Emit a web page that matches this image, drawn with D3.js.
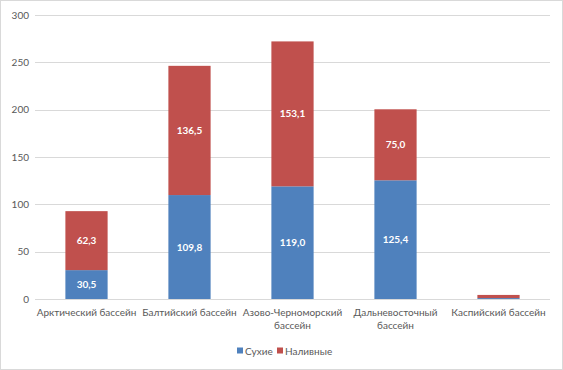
<!DOCTYPE html>
<html><head><meta charset="utf-8">
<script src="https://cdn.jsdelivr.net/npm/d3@7"></script>
<style>body{margin:0;background:#fff}svg{display:block}text{font-family:Lato,"Open Sans",sans-serif}</style>
</head><body>
<script>
const categories = ["Арктический бассейн", "Балтийский бассейн", "Азово-Черноморский бассейн", "Дальневосточный бассейн", "Каспийский бассейн"];
const labelLines = [["Арктический бассейн"], ["Балтийский бассейн"], ["Азово-Черноморский", "бассейн"], ["Дальневосточный", "бассейн"], ["Каспийский бассейн"]];
const dry = [30.5, 109.8, 119.0, 125.4, 1.0];
const liquid = [62.3, 136.5, 153.1, 75.0, 3.3];
const seriesNames = ["Сухие", "Наливные"];
const colors = ["#4F81BD", "#C0504D"];
const yTicks = [0, 50, 100, 150, 200, 250, 300];

const W = 563, H = 370;
const svg = d3.select("body").append("svg").attr("width", W).attr("height", H);
svg.append("rect").attr("x", 0.5).attr("y", 0.5).attr("width", W - 1).attr("height", H - 1)
  .attr("fill", "#fff").attr("stroke", "#d9d9d9");

const x = d3.scaleBand().domain(categories).range([35, 550]).padding(0);
const y = d3.scaleLinear().domain([0, 300]).range([299, 15]);
const barW = x.bandwidth() * 0.41;

const g = svg.append("g");
g.selectAll(".grid").data(yTicks).join("line")
  .attr("x1", 35).attr("x2", 550)
  .attr("y1", d => Math.round(y(d)) + 0.5).attr("y2", d => Math.round(y(d)) + 0.5)
  .attr("stroke", "#d9d9d9");

const yAxis = d3.axisLeft(y).tickValues(yTicks).tickSize(0).tickPadding(6);
const ya = svg.append("g").attr("transform", "translate(35,0)").call(yAxis);
ya.select(".domain").remove();
ya.selectAll("text").attr("fill", "#595959").style("font-size", "10px");

const stackData = categories.map((c, i) => ({cat: c, dry: dry[i], liquid: liquid[i]}));
const stacked = d3.stack().keys(["dry", "liquid"])(stackData);

stacked.forEach((s, si) => {
  svg.append("g").selectAll("rect").data(s).join("rect")
    .attr("x", d => x(d.data.cat) + (x.bandwidth() - barW) / 2)
    .attr("width", barW)
    .attr("y", d => y(d[1]))
    .attr("height", d => y(d[0]) - y(d[1]))
    .attr("fill", colors[si]);
  svg.append("g").selectAll("text").data(s.filter(d => d[1] - d[0] > 10)).join("text")
    .attr("x", d => x(d.data.cat) + x.bandwidth() / 2)
    .attr("y", d => (y(d[0]) + y(d[1])) / 2)
    .attr("dy", "0.35em").attr("text-anchor", "middle")
    .attr("fill", "#fff").style("font-size", "10px").style("font-weight", "bold")
    .text(d => d3.format(".1f")(d[1] - d[0]).replace(".", ","));
});

// baseline
svg.append("line").attr("x1", 35).attr("x2", 550).attr("y1", 299.5).attr("y2", 299.5).attr("stroke", "#d9d9d9");

// x labels
categories.forEach((c, i) => {
  const t = svg.append("text").attr("x", x(c) + x.bandwidth() / 2).attr("y", 316)
    .attr("text-anchor", "middle").attr("fill", "#595959").style("font-size", "10px");
  labelLines[i].forEach((ln, j) => t.append("tspan").attr("x", x(c) + x.bandwidth() / 2).attr("dy", j ? 13 : 0).text(ln));
});

// legend
const leg = svg.append("g").attr("transform", "translate(237,351)");
const items = [{n: seriesNames[0], c: colors[0], dx: 0}, {n: seriesNames[1], c: colors[1], dx: 40}];
items.forEach(it => {
  leg.append("rect").attr("x", it.dx).attr("y", -3.5).attr("width", 6).attr("height", 6).attr("fill", it.c);
  leg.append("text").attr("x", it.dx + 8).attr("y", 0).attr("dy", "0.35em").attr("fill", "#595959").style("font-size", "10px").text(it.n);
});
</script>
</body></html>
